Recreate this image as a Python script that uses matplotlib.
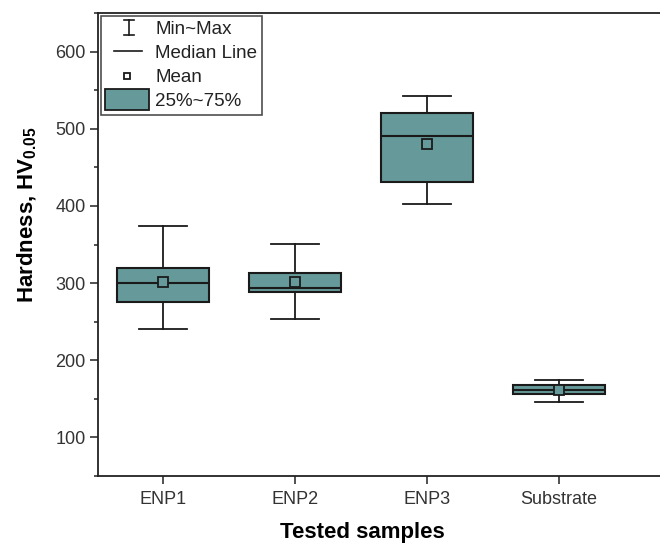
import matplotlib
matplotlib.use("Agg")
import matplotlib.pyplot as plt
from matplotlib.lines import Line2D
from matplotlib.patches import Rectangle
from matplotlib.legend_handler import HandlerBase

plt.rcParams['font.family'] = ['Liberation Sans', 'DejaVu Sans']
plt.rcParams['mathtext.fontset'] = 'custom'
plt.rcParams['mathtext.rm'] = 'Liberation Sans'
plt.rcParams['mathtext.bf'] = 'Liberation Sans:bold'

# Hardness statistics per sample (HV0.05)
samples = ["ENP1", "ENP2", "ENP3", "Substrate"]
hv_min = [240, 253, 403, 146]
hv_q1 = [275, 289, 431, 156]
hv_median = [300, 293, 491, 162]
hv_q3 = [319, 313, 520, 168]
hv_max = [374, 351, 543, 174]
hv_mean = [301, 301, 480, 162]
y_ticks = [100, 200, 300, 400, 500, 600]

BOX_COLOR = "#669999"
EDGE = "#1a1a1a"

fig = plt.figure(figsize=(6.6, 5.47), dpi=100)
ax = fig.add_axes([98 / 660, 71 / 547, 1 - 98 / 660, (476 - 13) / 547])

stats = []
for name, lo, q1, med, q3, hi, mu in zip(samples, hv_min, hv_q1, hv_median,
                                         hv_q3, hv_max, hv_mean):
    stats.append(dict(label=name, whislo=lo, q1=q1, med=med, q3=q3,
                      whishi=hi, mean=mu, fliers=[]))

positions = list(range(1, len(samples) + 1))
ax.bxp(stats, positions=positions, widths=0.70, capwidths=0.36,
       showmeans=True, patch_artist=True, showfliers=False,
       boxprops=dict(facecolor=BOX_COLOR, edgecolor=EDGE, linewidth=1.5),
       medianprops=dict(color=EDGE, linewidth=1.5),
       whiskerprops=dict(color=EDGE, linewidth=1.3),
       capprops=dict(color=EDGE, linewidth=1.3),
       meanprops=dict(marker='s', markersize=6.5, markerfacecolor=BOX_COLOR,
                      markeredgecolor=EDGE, markeredgewidth=1.3))

ax.set_xlim(0.508, 4.765)
ax.set_ylim(50, 648)
ax.set_yticks(y_ticks)
ax.set_yticks([v + 50 for v in [0] + y_ticks], minor=True)
ax.set_xticks(positions)
ax.set_xticklabels(samples)

for side in ("left", "bottom", "top"):
    ax.spines[side].set_linewidth(1.3)
    ax.spines[side].set_color("#222222")
ax.spines["right"].set_visible(False)

ax.tick_params(axis='both', which='major', direction='out', length=6,
               width=1.1, colors="#222222", labelsize=13,
               labelcolor="#333333")
ax.tick_params(axis='y', which='minor', direction='out', length=3, width=1.1,
               colors="#222222")
ax.tick_params(axis='x', which='major', pad=5)
ax.tick_params(axis='y', which='major', pad=3)

ax.set_xlabel("Tested samples", fontsize=16, fontweight='bold')
ax.set_ylabel(r"Hardness, $\mathbf{HV_{0.05}}$", fontsize=16,
              fontweight='bold')
ax.xaxis.set_label_coords(0.47, -0.1)
ax.yaxis.set_label_coords(-0.105, 0.565)


class IBeamHandler(HandlerBase):
    def create_artists(self, legend, orig, xd, yd, w, h, fs, trans):
        cx = xd + w * 0.55
        y0, y1 = yd - 0.1 * h, yd + 1.05 * h
        cap = w * 0.12
        kw = dict(color=EDGE, linewidth=1.2, transform=trans)
        return [Line2D([cx, cx], [y0, y1], **kw),
                Line2D([cx - cap, cx + cap], [y0, y0], **kw),
                Line2D([cx - cap, cx + cap], [y1, y1], **kw)]


class MedianHandler(HandlerBase):
    def create_artists(self, legend, orig, xd, yd, w, h, fs, trans):
        y = yd + h / 2
        return [Line2D([xd + 0.2 * w, xd + 0.85 * w], [y, y], color=EDGE,
                       linewidth=1.2, transform=trans)]


class MeanHandler(HandlerBase):
    def create_artists(self, legend, orig, xd, yd, w, h, fs, trans):
        return [Line2D([xd + 0.5 * w], [yd + h / 2], marker='s',
                       markersize=5, markerfacecolor='white',
                       markeredgecolor=EDGE, markeredgewidth=1.3,
                       linestyle='none', transform=trans)]


class BoxHandler(HandlerBase):
    def create_artists(self, legend, orig, xd, yd, w, h, fs, trans):
        return [Rectangle((xd - 0.02 * w, yd - 0.3 * h), w * 1.02, h * 1.6,
                          facecolor=BOX_COLOR, edgecolor=EDGE,
                          linewidth=1.3, transform=trans)]


class _Key:
    pass


keys = [_Key(), _Key(), _Key(), _Key()]
leg = ax.legend(keys, ["Min~Max", "Median Line", "Mean", "25%~75%"],
                handler_map={keys[0]: IBeamHandler(),
                             keys[1]: MedianHandler(),
                             keys[2]: MeanHandler(),
                             keys[3]: BoxHandler()},
                loc='upper left', bbox_to_anchor=(0.0, 1.0),
                fontsize=13.5, frameon=True, fancybox=False,
                handlelength=2.3, handletextpad=0.35, labelspacing=0.38,
                borderpad=0.25, borderaxespad=0.15)
leg.get_frame().set_edgecolor("#222222")
leg.get_frame().set_linewidth(1.2)
for t in leg.get_texts():
    t.set_color("#222222")

fig.savefig("out.png", dpi=100)
